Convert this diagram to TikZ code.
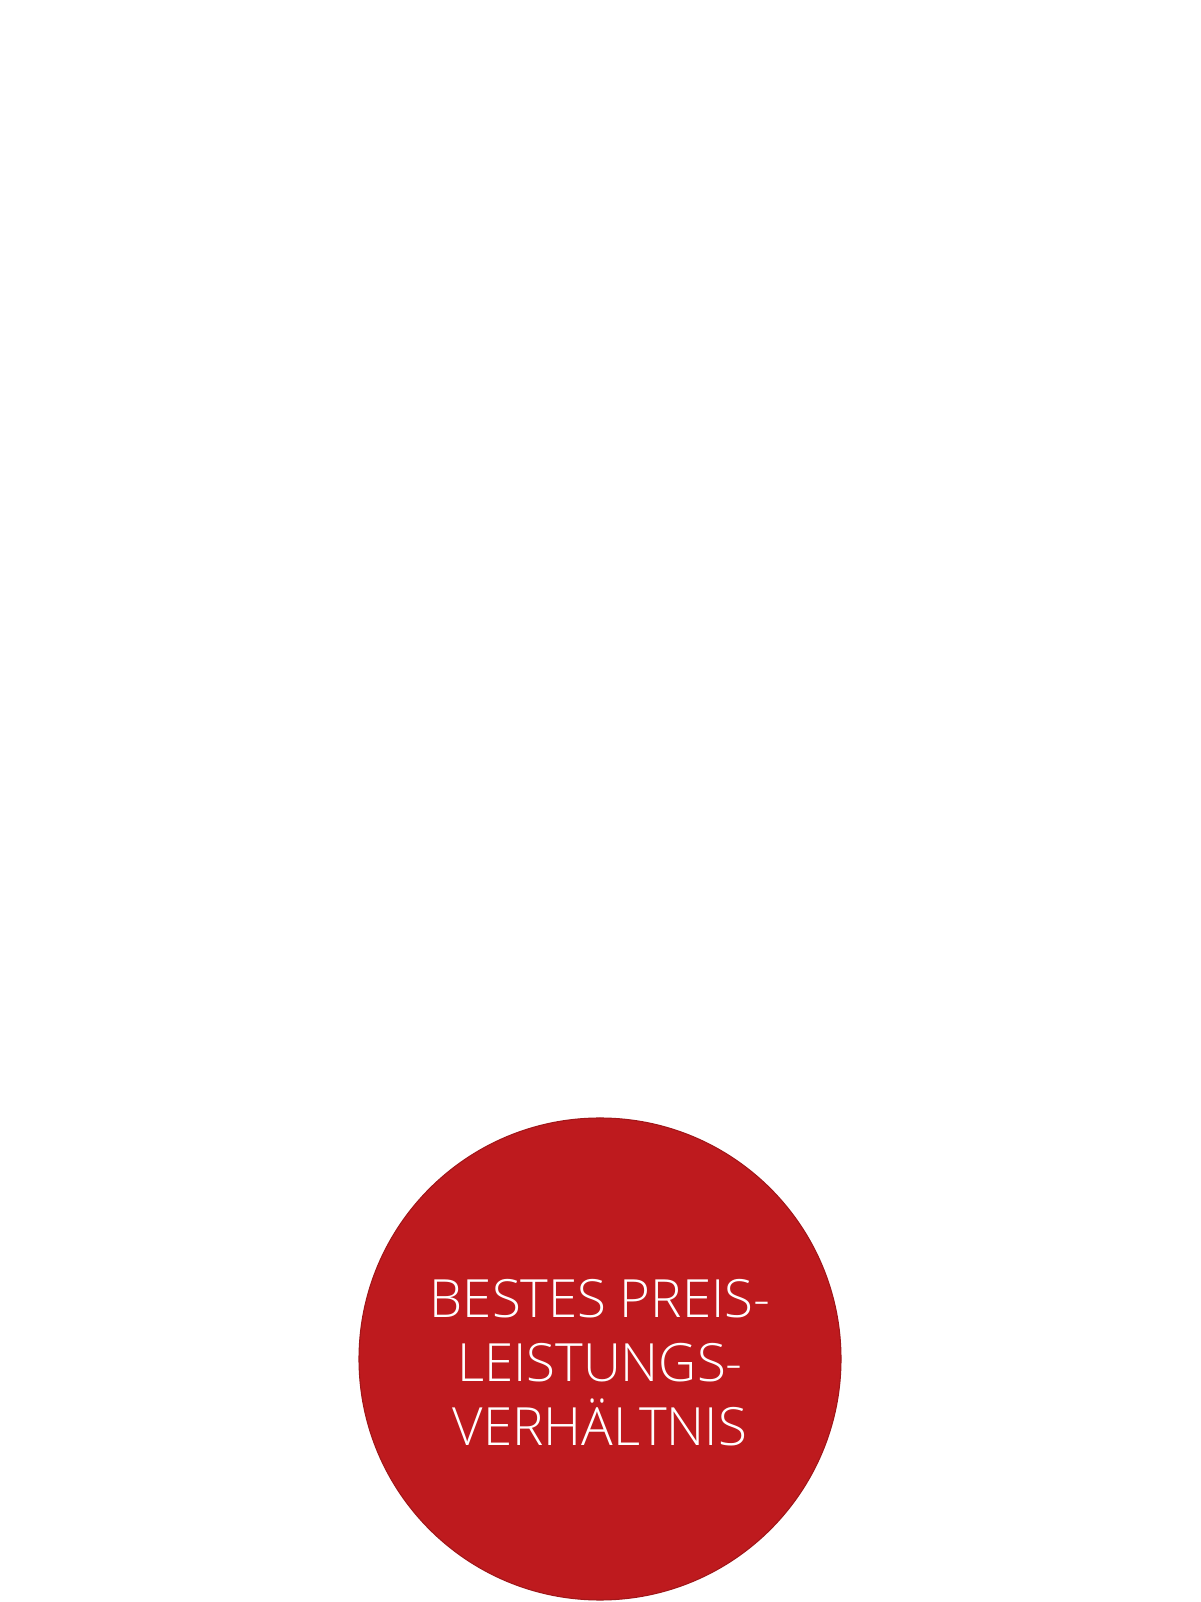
\documentclass[tikz,border=0pt]{standalone}
\usepackage{fontspec}
\setmainfont{Open Sans}[UprightFont=* Light]
\definecolor{preisred}{HTML}{BE1A1E}

\begin{document}
\begin{tikzpicture}
	\useasboundingbox (0.0, 0.0) rectangle (12.0, 16.02);
	\fill [white] (0.0, 0.0) rectangle (12.0, 16.02);
	\draw [preisred!85!black, line width=0.3pt, fill=preisred] (6.0, 2.43) circle (2.41);
	\node [white, align=center, font=\fontsize{15.0}{18.2}\selectfont] (preis) at (6.0, 2.39) {BESTES PREIS-\\LEISTUNGS-\\VERHÄLTNIS};
\end{tikzpicture}
\end{document}
